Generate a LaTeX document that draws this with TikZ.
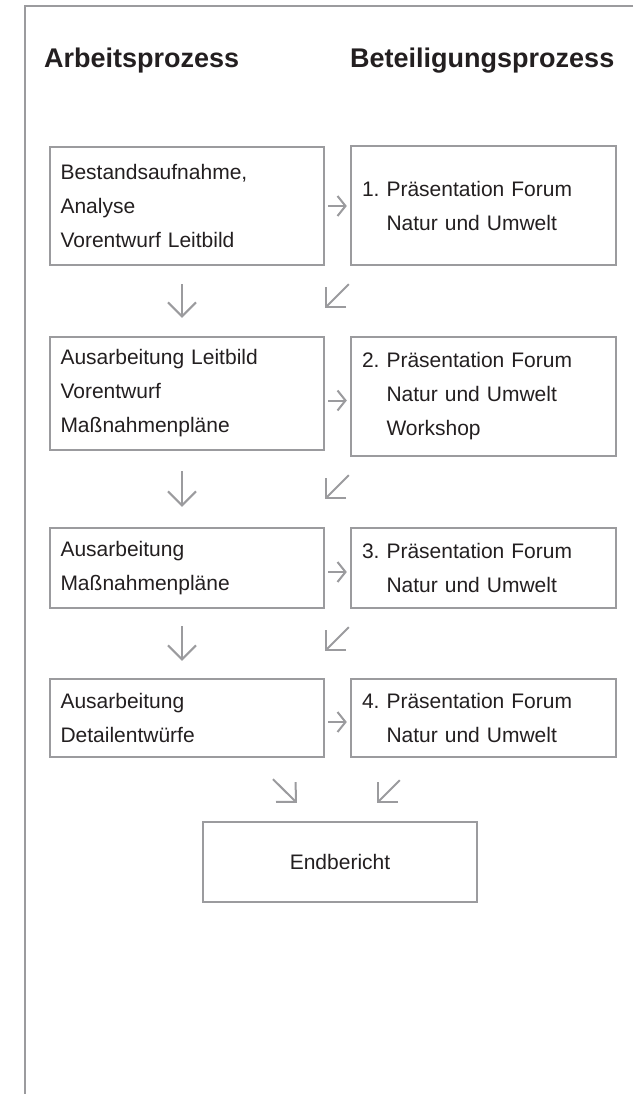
\documentclass[tikz,border=0pt]{standalone}
\usepackage{fontspec}
\setmainfont{Liberation Sans}
\usetikzlibrary{arrows.meta}
\definecolor{lineg}{RGB}{155,155,158}
\definecolor{txt}{RGB}{35,31,32}
\frenchspacing
\begin{document}
\begin{tikzpicture}[x=1pt,y=-1pt,
  box/.style={draw=lineg, line width=2.4pt, text=txt, font=\fontsize{21}{34}\selectfont, align=left, inner sep=0pt, inner xsep=10.5pt},
  lbox/.style={box, minimum width=274pt, text width=253pt},
  rbox/.style={box, minimum width=265pt, text width=243pt},
  ebox/.style={box, minimum width=274pt, text width=253pt, align=center, minimum height=80pt},
  titlef/.style={text=txt, font=\fontsize{27}{30}\selectfont\bfseries, inner sep=0pt, anchor=base west},
  arr/.style={draw=lineg, line width=2pt, -{Straight Barb[length=14pt,width=28pt]}},
  sarr/.style={draw=lineg, line width=2pt, -{Straight Barb[length=8pt,width=20pt]}},
  frame/.style={draw=lineg, line width=2.2pt}
]
\useasboundingbox (0,0) rectangle (633,1094);
% frame
\coordinate (fTop) at (633,6);
\coordinate (fCorner) at (25,6);
\coordinate (fBot) at (25,1094);
\draw[frame] (fTop) -- (fCorner) -- (fBot);
% titles
\node[titlef] (T1) at (44,68) {Arbeitsprozess};
\node[titlef] (T2) at (350,68) {Beteiligungsprozess};
% boxes
\node[lbox, minimum height=118pt] (L1) at (187,206) {Bestandsaufnahme,\\Analyse\\Vorentwurf Leitbild};
\node[rbox, minimum height=119pt] (R1) at (483.5,205.5) {1. Präsentation Forum\\\hphantom{1.\ }Natur und Umwelt};
\node[lbox, minimum height=113pt] (L2) at (187,393.5) {Ausarbeitung Leitbild\\Vorentwurf\\Maßnahmenpläne};
\node[rbox, minimum height=119pt] (R2) at (483.5,396.5) {2. Präsentation Forum\\\hphantom{2.\ }Natur und Umwelt\\\hphantom{2.\ }Workshop};
\node[lbox, minimum height=80pt] (L3) at (187,568) {Ausarbeitung\\Maßnahmenpläne};
\node[rbox, minimum height=80pt] (R3) at (483.5,568) {3. Präsentation Forum\\\hphantom{3.\ }Natur und Umwelt};
\node[lbox, minimum height=78pt] (L4) at (187,718) {Ausarbeitung\\Detailentwürfe};
\node[rbox, minimum height=78pt] (R4) at (483.5,718) {4. Präsentation Forum\\\hphantom{4.\ }Natur und Umwelt};
\node[ebox] (E) at (340,862) {Endbericht};
% right arrows
\draw[sarr, shorten <=3pt, shorten >=3pt] ([yshift=0pt]L1.east) -- ([yshift=0pt]L1.east -| R1.west);
\draw[sarr, shorten <=3pt, shorten >=3pt] ([yshift=-7pt]L2.east) -- ([yshift=-7pt]L2.east -| R2.west);
\draw[sarr, shorten <=3pt, shorten >=3pt] ([yshift=-4pt]L3.east) -- ([yshift=-4pt]L3.east -| R3.west);
\draw[sarr, shorten <=3pt, shorten >=3pt] ([yshift=-4pt]L4.east) -- ([yshift=-4pt]L4.east -| R4.west);
% down arrows
\draw[arr, shorten <=18pt, shorten >=18pt] ([xshift=-5pt]L1.south) -- ([xshift=-5pt]L2.north);
\draw[arr, shorten <=20pt, shorten >=20pt] ([xshift=-5pt]L2.south) -- ([xshift=-5pt]L3.north);
\draw[arr, shorten <=17pt, shorten >=17pt] ([xshift=-5pt]L3.south) -- ([xshift=-5pt]L4.north);
% diagonal arrows
\draw[arr] ([xshift=-1pt,yshift=-18pt]R1.south west) -- ([yshift=28pt]L2.north east);
\draw[arr] ([xshift=-1pt,yshift=-18pt]R2.south west) -- ([yshift=28pt]L3.north east);
\draw[arr] ([xshift=-1pt,yshift=-18pt]R3.south west) -- ([yshift=27pt]L4.north east);
% final arrows
\draw[arr] ([xshift=86pt,yshift=-21pt]L4.south) -- ([xshift=95pt,yshift=18pt]E.north west);
\draw[arr] ([xshift=50pt,yshift=-22pt]R4.south west) -- ([xshift=-101pt,yshift=18pt]E.north east);
\end{tikzpicture}
\end{document}
